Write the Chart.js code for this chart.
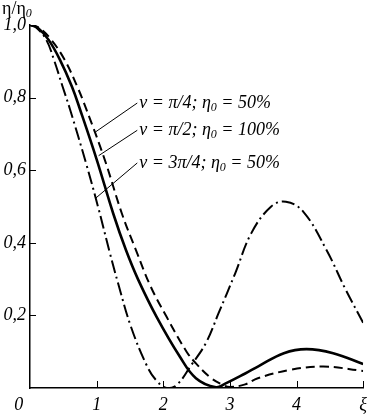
<!DOCTYPE html>
<html>
<head>
<meta charset="utf-8">
<script src="https://cdn.jsdelivr.net/npm/chart.js@4/dist/chart.umd.min.js"></script>
<style>
  html, body { margin: 0; padding: 0; background: #fff; }
  #wrap { width: 373px; height: 415px; }
</style>
</head>
<body>
<div id="wrap"><canvas id="chart"></canvas></div>
<script>
// xi values and eta/eta0
const xiHalf = [0, 0.12, 0.28, 0.45, 0.63, 0.75, 1.0, 1.25, 1.44, 1.62, 1.9, 2.25, 2.49, 2.79, 2.93, 3.23, 3.42, 3.81, 4.15, 4.55, 5.0];
const etaHalf = [1.0, 0.992, 0.959, 0.904, 0.83, 0.768, 0.63, 0.48, 0.38, 0.30, 0.196, 0.086, 0.027, 0.002, 0.012, 0.04, 0.059, 0.096, 0.107, 0.096, 0.066];

const xiQuarter = [0, 0.14, 0.32, 0.52, 0.71, 0.845, 1.12, 1.38, 1.59, 1.81, 2.05, 2.35, 2.49, 2.7, 2.88, 3.0, 3.23, 3.42, 3.91, 4.4, 5.0];
const etaQuarter = [1.0, 0.992, 0.959, 0.904, 0.83, 0.768, 0.63, 0.48, 0.38, 0.28, 0.196, 0.1, 0.068, 0.03, 0.01, 0.003, 0.01, 0.027, 0.05, 0.059, 0.047];

const xiThreeQuarter = [0, 0.1, 0.245, 0.36, 0.49, 0.6, 0.84, 1.02, 1.2, 1.32, 1.515, 1.76, 1.9, 2.05, 2.2, 2.42, 2.64, 2.83, 3.08, 3.32, 3.62, 3.84, 4.1, 4.45, 4.74, 5.0];
const etaThreeQuarter = [1.0, 0.992, 0.959, 0.904, 0.83, 0.768, 0.62, 0.5, 0.371, 0.29, 0.169, 0.059, 0.02, 0.0, 0.008, 0.063, 0.124, 0.206, 0.316, 0.426, 0.50, 0.513, 0.486, 0.38, 0.27, 0.18];

const xTicks = [0, 1, 2, 3, 4, 5];
const xTickLabels = ["0     ", "1", "2", "3", "4", "ξ"];
const yTicks = [0.2, 0.4, 0.6, 0.8, 1.0];
const yTickLabels = ["0,2", "0,4", "0,6", "0,8", "1,0"];

// legend text parts: before subscript, after subscript
const legendParts = [
  ["ν = π/4; η", " = 50%"],
  ["ν = π/2; η", " = 100%"],
  ["ν = 3π/4; η", " = 50%"]
];
// leader line: label anchor and curve point, in data units
const legendAnchors = [
  { label: [1.61, 0.785], target: [0.98, 0.705] },
  { label: [1.61, 0.71], target: [1.03, 0.64] },
  { label: [1.61, 0.62], target: [0.98, 0.522] }
];

function toPoints(xs, ys) {
  return xs.map((x, i) => ({ x: x, y: ys[i] }));
}

const serif = "'Liberation Serif', 'DejaVu Serif', serif";

const decorPlugin = {
  id: "decor",
  afterDraw(chart) {
    const ctx = chart.ctx;
    const xs = chart.scales.x;
    const ys = chart.scales.y;
    ctx.save();
    ctx.strokeStyle = "#000";
    ctx.lineWidth = 1;

    // inward ticks
    ctx.beginPath();
    xTicks.slice(1).forEach((v) => {
      const px = Math.round(xs.getPixelForValue(v)) + 0.5;
      ctx.moveTo(px, ys.bottom);
      ctx.lineTo(px, ys.bottom - 7);
    });
    yTicks.forEach((v) => {
      const py = Math.round(ys.getPixelForValue(v)) + 0.5;
      ctx.moveTo(xs.left, py);
      ctx.lineTo(xs.left + 6, py);
    });
    ctx.stroke();

    // axis title
    ctx.fillStyle = "#000";
    ctx.textBaseline = "alphabetic";
    ctx.font = "18px " + serif;
    ctx.fillText("η/η", 2, 14);
    let w = ctx.measureText("η/η").width;
    ctx.font = "italic 12px " + serif;
    ctx.fillText("0", 2 + w, 17);

    // leader lines and labels
    legendAnchors.forEach((a, i) => {
      const lx = xs.getPixelForValue(a.label[0]);
      const ly = ys.getPixelForValue(a.label[1]);
      const tx = xs.getPixelForValue(a.target[0]);
      const ty = ys.getPixelForValue(a.target[1]);
      ctx.beginPath();
      ctx.moveTo(lx, ly);
      ctx.lineTo(tx, ty);
      ctx.stroke();

      const parts = legendParts[i];
      let x = lx + 2;
      const y = ly + 5;
      ctx.font = "italic 18px " + serif;
      ctx.fillText(parts[0], x, y);
      x += ctx.measureText(parts[0]).width;
      ctx.font = "italic 12px " + serif;
      ctx.fillText("0", x, y + 3);
      x += ctx.measureText("0").width;
      ctx.font = "italic 18px " + serif;
      ctx.fillText(parts[1], x, y);
    });
    ctx.restore();
  }
};

const lineStyle = {
  fill: false,
  borderColor: "#000",
  pointRadius: 0,
  tension: 0.4,
  showLine: true
};

new Chart(document.getElementById("chart"), {
  type: "scatter",
  data: {
    datasets: [
      Object.assign({ label: "ν = π/2", data: toPoints(xiHalf, etaHalf), borderWidth: 2.6 }, lineStyle),
      Object.assign({ label: "ν = π/4", data: toPoints(xiQuarter, etaQuarter), borderWidth: 2, borderDash: [9, 5] }, lineStyle),
      Object.assign({ label: "ν = 3π/4", data: toPoints(xiThreeQuarter, etaThreeQuarter), borderWidth: 2, borderDash: [13, 4, 2, 4] }, lineStyle)
    ]
  },
  options: {
    responsive: true,
    maintainAspectRatio: false,
    animation: false,
    layout: { padding: { top: 25, right: 2, left: 0, bottom: 0 } },
    plugins: {
      legend: { display: false },
      tooltip: { enabled: false }
    },
    scales: {
      x: {
        type: "linear",
        min: 0,
        max: 5,
        afterFit: (s) => { s.height = 27; },
        afterBuildTicks: (s) => { s.ticks = xTicks.map((v) => ({ value: v })); },
        grid: { display: false, drawTicks: false },
        border: { display: true, color: "#000", width: 1.5 },
        ticks: {
          padding: 6,
          color: "#000",
          maxRotation: 0,
          autoSkip: false,
          font: { family: serif, size: 18, style: "italic" },
          callback: (v) => xTickLabels[xTicks.indexOf(v)]
        }
      },
      y: {
        type: "linear",
        min: 0,
        max: 1.0,
        afterFit: (s) => { s.width = 30; },
        afterBuildTicks: (s) => { s.ticks = yTicks.map((v) => ({ value: v })); },
        grid: { display: false, drawTicks: false },
        border: { display: true, color: "#000", width: 1.5 },
        ticks: {
          padding: 4,
          color: "#000",
          autoSkip: false,
          font: { family: serif, size: 18, style: "italic" },
          callback: (v) => yTickLabels[yTicks.indexOf(v)]
        }
      }
    }
  },
  plugins: [decorPlugin]
});
</script>
</body>
</html>
